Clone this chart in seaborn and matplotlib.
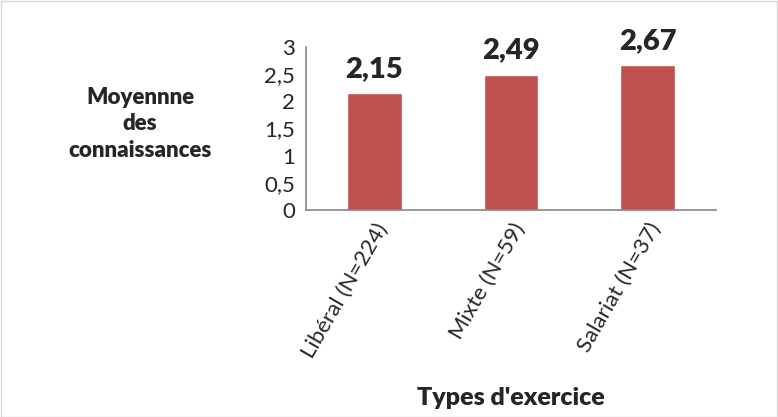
import matplotlib
matplotlib.use("Agg")
import matplotlib.pyplot as plt
import seaborn as sns
import pandas as pd
from matplotlib.patches import Rectangle

categories = ["Libéral (N=224)", "Mixte (N=59)", "Salariat (N=37)"]
values = [2.15, 2.49, 2.67]
value_labels = ["2,15", "2,49", "2,67"]
yticks = [0, 0.5, 1, 1.5, 2, 2.5, 3]
ytick_labels = ["0", "0,5", "1", "1,5", "2", "2,5", "3"]

sns.set_style("white")
plt.rcParams['font.family'] = ['Lato', 'DejaVu Sans']

df = pd.DataFrame({"cat": categories, "val": values})

fig = plt.figure(figsize=(7.78, 4.17), dpi=100)
ax = fig.add_axes([306/778, 1-210/417, 410/778, 163/417])
sns.barplot(data=df, x="cat", y="val", color="#C0504D", saturation=1, width=0.4, ax=ax)

ax.set_ylim(0, 3)
ax.set_xlim(-0.5, len(categories) - 0.5)
ax.set_yticks(yticks)
ax.set_yticklabels(ytick_labels, fontsize=16)
ax.set_xticks(range(len(categories)))
ax.set_xticklabels(categories, rotation=60, ha='right', va='top', rotation_mode='anchor', fontsize=16)
ax.tick_params(axis='x', length=0, pad=7)
ax.set_xticks([-0.5 + i for i in range(len(categories) + 1)], minor=True)
ax.tick_params(axis='x', which='minor', length=5, color='#868686', width=1.2, direction='out')
ax.tick_params(axis='y', length=5, color='#868686', width=1.2, direction='out', pad=3)

for side in ['top', 'right']:
    ax.spines[side].set_visible(False)
for side in ['left', 'bottom']:
    ax.spines[side].set_color('#868686')
    ax.spines[side].set_linewidth(1.2)

ax.set_xlabel("")
ax.set_ylabel("")

for i, (v, lab) in enumerate(zip(values, value_labels)):
    ax.annotate(lab, (i, v), xytext=(0, 8), textcoords='offset points',
                ha='center', va='bottom', fontsize=21, fontweight='heavy')

fig.text(140/778, 1-124/417, "Moyennne\ndes\nconnaissances", ha='center', va='center',
         fontsize=16, fontweight='heavy', linespacing=1.3)
fig.text(511/778, 1-398/417, "Types d'exercice", ha='center', va='center',
         fontsize=18, fontweight='heavy')

fig.patches.append(Rectangle((0.5/778, 0.5/417), 776.5/778, 415.5/417, transform=fig.transFigure,
                             fill=False, edgecolor='#D9D9D9', linewidth=1))

fig.savefig("out.png", dpi=100)
